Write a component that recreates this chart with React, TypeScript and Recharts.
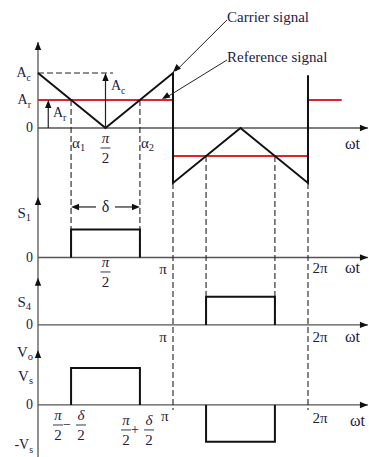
import { ComposedChart, Line, XAxis, YAxis, ReferenceLine, ReferenceDot } from "recharts";

// time in multiples of π, amplitude in units of the carrier peak Ac
const carrierT = [0, 0.5, 1, 1, 1.5, 2, 2];
const carrierV = [1, 0, 1, -1, 0, -1, 0.96];
const refT = [[0, 1], [1, 2], [2, 2.25]];
const refV = [0.51, -0.51, 0.51];
const alpha = [0.245, 0.755, 1.245, 1.755];
const s1T = [0.245, 0.245, 0.755, 0.755];
const s1V = [0, 1, 1, 0];
const s4T = [1.245, 1.245, 1.755, 1.755];
const s4V = [0, 1, 1, 0];
const voPosT = [0.245, 0.245, 0.755, 0.755];
const voPosV = [0, 1, 1, 0];
const voNegT = [1.245, 1.245, 1.755, 1.755];
const voNegV = [0, -1, -1, 0];
const acLevel = 1;
const arLevel = 0.51;

// where each panel sits on the shared vertical axis
const pTop = { base: 0, amp: 1, arrow: 1.564 };
const pS1 = { base: -2.355, amp: 0.51, arrow: -1.255 };
const pS4 = { base: -3.58, amp: 0.51, arrow: -2.725 };
const pVo = { base: -5.036, amp: 0.67, arrow: -4.036 };

type Panel = { base: number; amp: number; arrow: number };
const lift = (p: Panel, v: number) => p.base + p.amp * v;
const rows = (ts: number[], vs: number[], p: Panel) => ts.map((t, i) => ({ t, y: lift(p, vs[i]) }));

const serif = "Liberation Serif";
const ink = "#1d2145";
const axisCol = "#555";
const red = "#d8262b";
const xEnd = 2.444;

function Tx({ cx, cy, main, sub, anchor = "start", size = 15, italic = false }: any) {
  return (
    <text x={cx} y={cy} textAnchor={anchor} dominantBaseline="central"
      style={{ fontFamily: serif, fontSize: size, fontStyle: italic ? "italic" : "normal" }} fill={ink}>
      {main}
      {sub && <tspan style={{ fontSize: size * 0.7 }} dy={4}>{sub}</tspan>}
    </text>
  );
}

function Frac({ cx, cy, num }: { cx: number; cy: number; num: string }) {
  return (
    <g fill={ink} style={{ fontFamily: serif, fontSize: 15 }}>
      <text x={cx} y={cy - 5} textAnchor="middle" style={{ fontStyle: "italic" }}>{num}</text>
      <line x1={cx - 5} x2={cx + 5} y1={cy} y2={cy} stroke={ink} strokeWidth={0.9} />
      <text x={cx} y={cy + 15} textAnchor="middle">2</text>
    </g>
  );
}

function FracExpr({ cx, cy, op }: any) {
  return (
    <g>
      <Frac cx={cx - 12} cy={cy} num="π" />
      <text x={cx - 3} y={cy} textAnchor="middle" dominantBaseline="central"
        style={{ fontFamily: serif, fontSize: 14 }} fill={ink}>{op}</text>
      <Frac cx={cx + 11} cy={cy} num="δ" />
    </g>
  );
}

function Head({ cx, cy, angle }: any) {
  return (
    <polygon points="0,0 -8,-3.2 -8,3.2" fill="#111"
      transform={`translate(${cx},${cy}) rotate(${angle})`} />
  );
}

const arrow = (key: string, t: number, u: number, angle: number) => (
  <ReferenceDot key={key} x={t} y={u} r={0} ifOverflow="visible" shape={(p: any) => <Head cx={p.cx} cy={p.cy} angle={angle} />} />
);

const label = (key: string, t: number, u: number, props: any) => (
  <ReferenceDot key={key} x={t} y={u} r={0} ifOverflow="visible" shape={(p: any) => <Tx cx={p.cx} cy={p.cy} {...props} />} />
);

const seg = (key: string, a: [number, number], b: [number, number], stroke = "#222", width = 1.2, dash?: string) => (
  <ReferenceLine key={key} segment={[{ x: a[0], y: a[1] }, { x: b[0], y: b[1] }]} stroke={stroke}
    strokeWidth={width} strokeDasharray={dash} ifOverflow="visible" />
);

const dash = "6 3";
const panels = [pTop, pS1, pS4, pVo];

const trace = (key: string, data: { t: number; y: number }[], stroke = "#111") => (
  <Line key={key} data={data} dataKey="y" stroke={stroke} strokeWidth={2}
    dot={false} activeDot={false} isAnimationActive={false} />
);

export default function App() {
  return (
    <div style={{ position: "absolute", left: 0, top: 0, background: "#fff" }}>
      <ComposedChart width={369} height={457} margin={{ top: 0, right: 0, bottom: 0, left: 0 }}>
        <XAxis type="number" dataKey="t" domain={[-0.2815, 2.452]} hide allowDataOverflow />
        <YAxis type="number" domain={[-5.982, 2.327]} hide allowDataOverflow />

        {/* axes */}
        {seg("yaxis", [0, pTop.arrow], [0, -5.982], axisCol, 1.3)}
        {panels.map((p, i) => seg(`xa${i}`, [0, p.base], [xEnd, p.base], axisCol, 1.3))}
        {panels.map((p, i) => arrow(`xh${i}`, xEnd, p.base, 0))}
        {panels.map((p, i) => arrow(`yh${i}`, 0, p.arrow, -90))}

        {/* dashed guides */}
        {seg("acd", [0, acLevel], [0.556, acLevel], "#222", 1.1, dash)}
        {seg("g1", [alpha[0], arLevel], [alpha[0], pS1.base], "#222", 1.1, dash)}
        {seg("g2", [alpha[1], arLevel], [alpha[1], pS1.base], "#222", 1.1, dash)}
        {seg("g3", [alpha[2], -arLevel], [alpha[2], pS4.base], "#222", 1.1, dash)}
        {seg("g4", [alpha[3], -arLevel], [alpha[3], pS4.base], "#222", 1.1, dash)}
        {seg("g5", [1, -acLevel], [1, pVo.base - 0.09], "#222", 1.1, dash)}
        {seg("g6", [2, -acLevel], [2, pVo.base - 0.09], "#222", 1.1, dash)}

        {/* reference signal, carrier and switching waveforms */}
        {refT.map((r, i) => trace(`ref${i}`, rows(r, [refV[i], refV[i]], pTop), red))}
        {trace("carrier", rows(carrierT, carrierV, pTop))}
        {trace("s1", rows(s1T, s1V, pS1))}
        {trace("s4", rows(s4T, s4V, pS4))}
        {trace("voPos", rows(voPosT, voPosV, pVo))}
        {trace("voNeg", rows(voNegT, voNegV, pVo))}

        {/* amplitude arrows */}
        {seg("acA", [0.5, 0], [0.5, acLevel - 0.05], "#222", 1.2)}
        {arrow("acH", 0.5, acLevel, -90)}
        {seg("arA", [0.076, 0], [0.076, arLevel - 0.05], "#222", 1.2)}
        {arrow("arH", 0.076, arLevel, -90)}

        {/* delta width */}
        {seg("d1", [alpha[0] + 0.03, -1.436], [0.43, -1.436], "#222", 1.2)}
        {seg("d2", [0.57, -1.436], [alpha[1] - 0.03, -1.436], "#222", 1.2)}
        {arrow("dh1", alpha[0], -1.436, 180)}
        {arrow("dh2", alpha[1], -1.436, 0)}

        {/* callouts */}
        {seg("c1", [1.4, 1.964], [1.02, 1.035], "#222", 1)}
        {arrow("c1h", 1.0, 1.02, 136)}
        {seg("c2", [1.4, 1.236], [0.94, 0.54], "#222", 1)}
        {arrow("c2h", 0.918, 0.527, 149)}
        {label("lc", 1.4, 2.02, { main: "Carrier signal" })}
        {label("lr", 1.4, 1.29, { main: "Reference signal" })}

        {/* top panel labels */}
        {label("ac", -0.052, acLevel, { main: "A", sub: "c", anchor: "end", size: 14 })}
        {label("ar", -0.052, arLevel, { main: "A", sub: "r", anchor: "end", size: 14 })}
        {label("z0", -0.037, 0, { main: "0", anchor: "end", size: 14 })}
        {label("ac2", 0.54, 0.764, { main: "A", sub: "c", size: 14 })}
        {label("ar2", 0.111, 0.273, { main: "A", sub: "r", size: 14 })}
        {label("a1", 0.252, -0.273, { main: "α", sub: "1" })}
        {label("a2", 0.763, -0.273, { main: "α", sub: "2" })}
        {label("w0", 2.274, -0.273, { main: "ωt", size: 16 })}
        <ReferenceDot x={0.5} y={-0.364} r={0} ifOverflow="visible" shape={(p: any) => <Frac cx={p.cx} cy={p.cy} num="π" />} />

        {/* S1 panel */}
        {label("s1", -0.052, -1.545, { main: "S", sub: "1", anchor: "end" })}
        {label("z1", -0.037, pS1.base, { main: "0", anchor: "end", size: 14 })}
        {label("dl", 0.5, -1.436, { main: "δ", anchor: "middle", size: 16 })}
        <ReferenceDot x={0.5} y={-2.618} r={0} ifOverflow="visible" shape={(p: any) => <Frac cx={p.cx} cy={p.cy} num="π" />} />
        {label("p1", 0.926, -2.564, { main: "π", anchor: "middle" })}
        {label("pp1", 2.089, -2.545, { main: "2π", anchor: "middle" })}
        {label("w1", 2.274, -2.545, { main: "ωt", size: 16 })}

        {/* S4 panel */}
        {label("s4", -0.052, -3.164, { main: "S", sub: "4", anchor: "end" })}
        {label("z4", -0.037, pS4.base, { main: "0", anchor: "end", size: 14 })}
        {label("p4", 0.926, -3.8, { main: "π", anchor: "middle" })}
        {label("pp4", 2.089, -3.8, { main: "2π", anchor: "middle" })}
        {label("w4", 2.274, -3.8, { main: "ωt", size: 16 })}

        {/* output voltage panel */}
        {label("vo", -0.037, -4.073, { main: "V", sub: "o", anchor: "end" })}
        {label("vs", -0.037, -4.51, { main: "V", sub: "s", anchor: "end" })}
        {label("zv", -0.037, pVo.base, { main: "0", anchor: "end", size: 14 })}
        {label("mvs", -0.037, -5.76, { main: "-V", sub: "s", anchor: "end", size: 14 })}
        <ReferenceDot x={0.237} y={-5.4} r={0} ifOverflow="visible" shape={(p: any) => <FracExpr cx={p.cx} cy={p.cy} op="−" />} />
        <ReferenceDot x={0.741} y={-5.49} r={0} ifOverflow="visible" shape={(p: any) => <FracExpr cx={p.cx} cy={p.cy} op="+" />} />
        {label("pv", 0.94, -5.236, { main: "π", anchor: "middle" })}
        {label("ppv", 2.089, -5.27, { main: "2π", anchor: "middle" })}
        {label("wv", 2.311, -5.31, { main: "ωt", size: 16 })}
      </ComposedChart>
    </div>
  );
}
